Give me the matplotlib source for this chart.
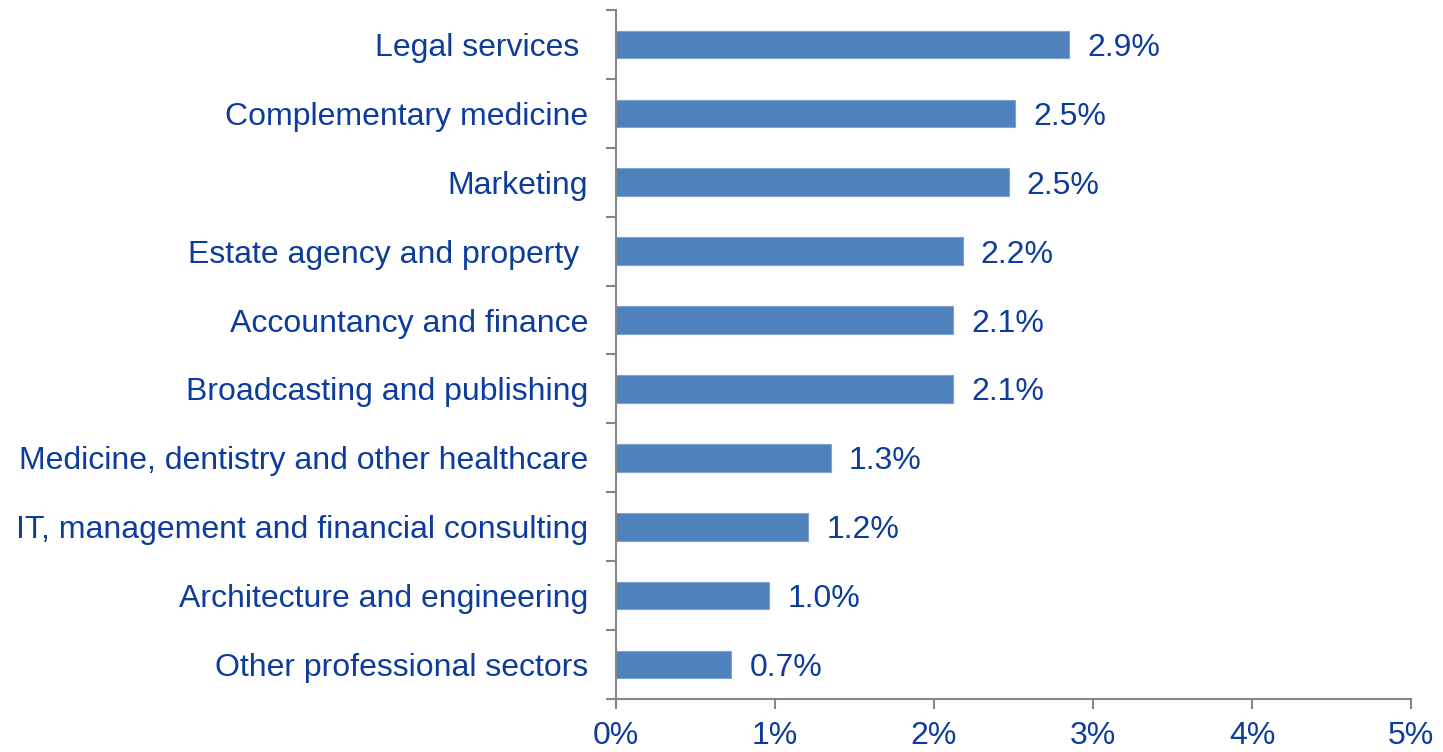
import matplotlib
matplotlib.use("Agg")
import matplotlib.pyplot as plt
import numpy as np

categories = [
    "Legal services ",
    "Complementary medicine",
    "Marketing",
    "Estate agency and property ",
    "Accountancy and finance",
    "Broadcasting and publishing",
    "Medicine, dentistry and other healthcare",
    "IT, management and financial consulting",
    "Architecture and engineering",
    "Other professional sectors",
]
values = [2.85, 2.51, 2.47, 2.18, 2.12, 2.12, 1.35, 1.21, 0.965, 0.725]
value_labels = ["2.9%", "2.5%", "2.5%", "2.2%", "2.1%", "2.1%", "1.3%", "1.2%", "1.0%", "0.7%"]
x_ticks = [0, 1, 2, 3, 4, 5]
x_tick_labels = ["0%", "1%", "2%", "3%", "4%", "5%"]

text_color = "#0D3C9B"
bar_color = "#4F81BD"
axis_color = "#868686"
fs = 23

plt.rcParams["font.family"] = ["Liberation Sans", "DejaVu Sans"]

fig = plt.figure(figsize=(14.43, 7.52), dpi=100)
ax = fig.add_axes([616 / 1443, 1 - 699 / 752, (1411 - 616) / 1443, (699 - 10) / 752])

n = len(categories)
ypos = np.arange(n)
ax.barh(ypos, values, height=0.4, color=bar_color, edgecolor="#7EA1CE", linewidth=0.8)
ax.set_ylim(n - 0.5, -0.5)
ax.set_xlim(0, 5)

for y, v, lab in zip(ypos, values, value_labels):
    ax.annotate(lab, (v, y), xytext=(13, 0), textcoords="offset points",
                va="center_baseline", ha="left", fontsize=fs, color=text_color)

# category boundaries as major ticks, labels at centres as minor ticks
ax.set_yticks(np.arange(-0.5, n, 1.0))
ax.set_yticklabels([])
ax.set_yticks(ypos, minor=True)
ax.set_yticklabels(categories, minor=True, fontsize=fs, color=text_color,
                   va="center_baseline")
ax.tick_params(axis="y", which="major", length=7, width=1.5, color=axis_color, direction="out")
ax.tick_params(axis="y", which="minor", length=0, pad=20)

ax.set_xticks(x_ticks)
ax.set_xticklabels(x_tick_labels, fontsize=fs, color=text_color)
ax.tick_params(axis="x", length=7, width=1.5, color=axis_color, direction="out", pad=9)

for side in ["top", "right"]:
    ax.spines[side].set_visible(False)
for side in ["left", "bottom"]:
    ax.spines[side].set_color(axis_color)
    ax.spines[side].set_linewidth(1.5)

fig.savefig("out.png", dpi=100)
